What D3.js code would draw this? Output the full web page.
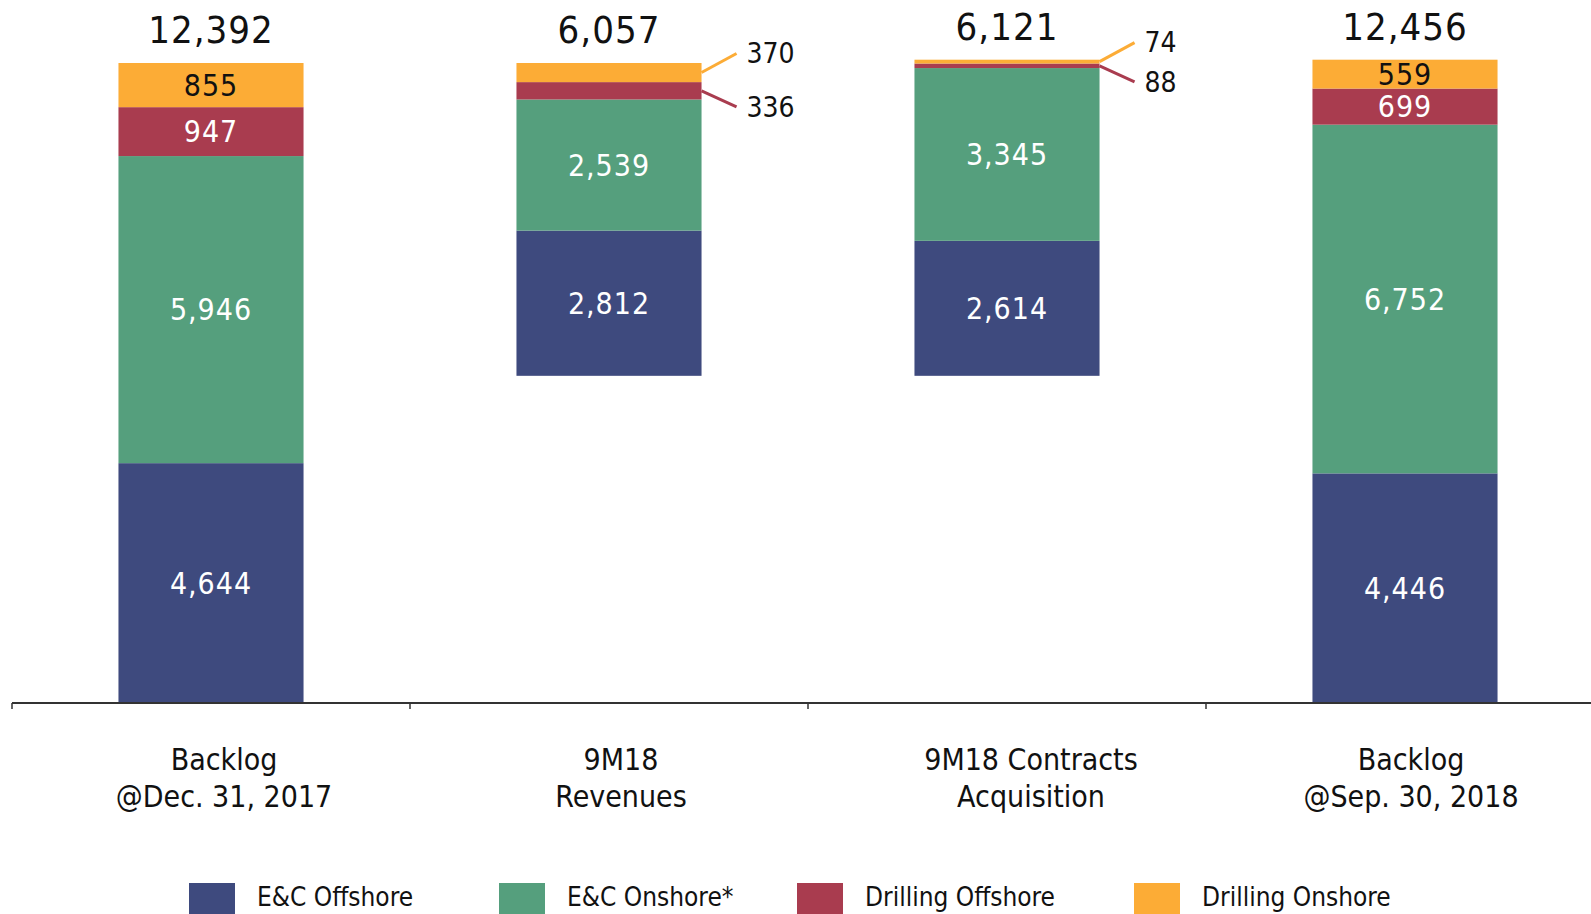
<!DOCTYPE html>
<html>
<head>
<meta charset="utf-8">
<script src="https://cdn.jsdelivr.net/npm/d3@7"></script>
<style>
  html, body { margin: 0; padding: 0; background: #fff; }
  svg text { font-family: "DejaVu Sans Condensed", "DejaVu Sans", sans-serif; }
</style>
</head>
<body>
<div id="chart"></div>
<script>
// --- Data ---
const categories = [
    ['Backlog', '@Dec. 31, 2017'],
    ['9M18', 'Revenues'],
    ['9M18 Contracts', 'Acquisition'],
    ['Backlog', '@Sep. 30, 2018']
];
const barKinds = ['total', 'decrease', 'increase', 'total'];
const seriesNames = ['E&C Offshore', 'E&C Onshore*', 'Drilling Offshore', 'Drilling Onshore'];
const ecOffshore = [4644, 2812, 2614, 4446];
const ecOnshore = [5946, 2539, 3345, 6752];
const drillingOffshore = [947, 336, 88, 699];
const drillingOnshore = [855, 370, 74, 559];
const totals = [12392, 6057, 6121, 12456];

// --- Styles ---
const colors = ['#3e4a7e', '#559f7d', '#a93c4f', '#fcac36'];
const labelColors = ['#fff', '#fff', '#fff', '#111'];
const width = 1591, height = 914;
const baselineY = 703;
const labelShift = [13, 12, 24, 6]; // category labels sit a bit right of the bars
const legendX = [189, 499, 797, 1134];

const svg = d3.select('#chart').append('svg')
    .attr('width', width)
    .attr('height', height);

const keys = categories.map((c, i) => i);
const x = d3.scaleBand()
    .domain(keys)
    .range([12, 12 + 398 * 4])
    .paddingInner(0.535)
    .paddingOuter(0.535 / 2);

const y = d3.scaleLinear()
    .domain([0, totals[0]])
    .range([baselineY, 63]);

// waterfall bases
const bases = [];
let running = 0;
barKinds.forEach((k, i) => {
    if (k === 'total') { bases.push(0); running = totals[i]; }
    else if (k === 'decrease') { running -= totals[i]; bases.push(running); }
    else { bases.push(running); running += totals[i]; }
});

const seriesValues = [ecOffshore, ecOnshore, drillingOffshore, drillingOnshore];
const segments = [];
keys.forEach(i => {
    let acc = bases[i];
    seriesValues.forEach((vals, s) => {
        segments.push({ bar: i, series: s, y0: acc, y1: acc + vals[i], value: vals[i] });
        acc += vals[i];
    });
});

// --- Bars ---
svg.append('g').selectAll('rect')
    .data(segments)
    .enter().append('rect')
    .attr('x', d => x(d.bar))
    .attr('width', x.bandwidth())
    .attr('y', d => y(d.y1))
    .attr('height', d => y(d.y0) - y(d.y1))
    .attr('fill', d => colors[d.series]);

// --- Segment labels (inside or as callouts) ---
const fmt = d3.format(',');
const segH = d => y(d.y0) - y(d.y1);
const inside = segments.filter(d => segH(d) >= 24);
const callouts = segments.filter(d => segH(d) < 24);

svg.append('g').selectAll('text')
    .data(inside)
    .enter().append('text')
    .attr('x', d => x(d.bar) + x.bandwidth() / 2)
    .attr('y', d => (y(d.y0) + y(d.y1)) / 2)
    .attr('dy', '0.36em')
    .attr('text-anchor', 'middle')
    .attr('font-size', 30)
    .attr('letter-spacing', 1)
    .attr('fill', d => labelColors[d.series])
    .text(d => fmt(d.value));

const co = svg.append('g');
callouts.forEach(d => {
    const x0 = x(d.bar) + x.bandwidth();
    const y0 = (y(d.y0) + y(d.y1)) / 2;
    const up = d.series === 3;
    const x1 = x0 + 35;
    const y1 = up ? y0 - 19 : y0 + 16;
    co.append('line')
        .attr('x1', x0).attr('y1', y0)
        .attr('x2', x1).attr('y2', y1)
        .attr('stroke', colors[d.series])
        .attr('stroke-width', 3);
    co.append('text')
        .attr('x', x1 + 10)
        .attr('y', up ? y1 + 9 : y1 + 10)
        .attr('font-size', 28)
        .attr('fill', '#111')
        .text(fmt(d.value));
});

// --- Totals ---
svg.append('g').selectAll('text')
    .data(keys)
    .enter().append('text')
    .attr('x', i => x(i) + x.bandwidth() / 2)
    .attr('y', i => y(bases[i] + totals[i]) - 20)
    .attr('text-anchor', 'middle')
    .attr('font-size', 38)
    .attr('letter-spacing', 1)
    .attr('fill', '#111')
    .text(i => fmt(totals[i]));

// --- Axis ---
const axis = svg.append('g');
axis.append('line')
    .attr('x1', 12).attr('x2', width)
    .attr('y1', baselineY).attr('y2', baselineY)
    .attr('stroke', '#333').attr('stroke-width', 2);
keys.forEach(i => {
    const tx = x(i) - x.step() * x.paddingInner() / 2;
    axis.append('line')
        .attr('x1', tx).attr('x2', tx)
        .attr('y1', baselineY).attr('y2', baselineY + 6)
        .attr('stroke', '#333').attr('stroke-width', 1.5);
});

const catLabels = svg.append('g').selectAll('text')
    .data(keys)
    .enter().append('text')
    .attr('text-anchor', 'middle')
    .attr('font-size', 30)
    .attr('fill', '#111');
catLabels.each(function(i) {
    const t = d3.select(this);
    categories[i].forEach((line, k) => {
        t.append('tspan')
            .attr('x', x(i) + x.bandwidth() / 2 + labelShift[i])
            .attr('y', 770 + k * 37)
            .text(line);
    });
});

// --- Legend ---
const legend = svg.append('g').selectAll('g')
    .data(seriesNames)
    .enter().append('g')
    .attr('transform', (d, i) => `translate(${legendX[i]},883)`);
legend.append('rect')
    .attr('width', 46).attr('height', 31)
    .attr('fill', (d, i) => colors[i]);
legend.append('text')
    .attr('x', 68).attr('y', 23)
    .attr('font-size', 26)
    .attr('fill', '#111')
    .text(d => d);
</script>
</body>
</html>
